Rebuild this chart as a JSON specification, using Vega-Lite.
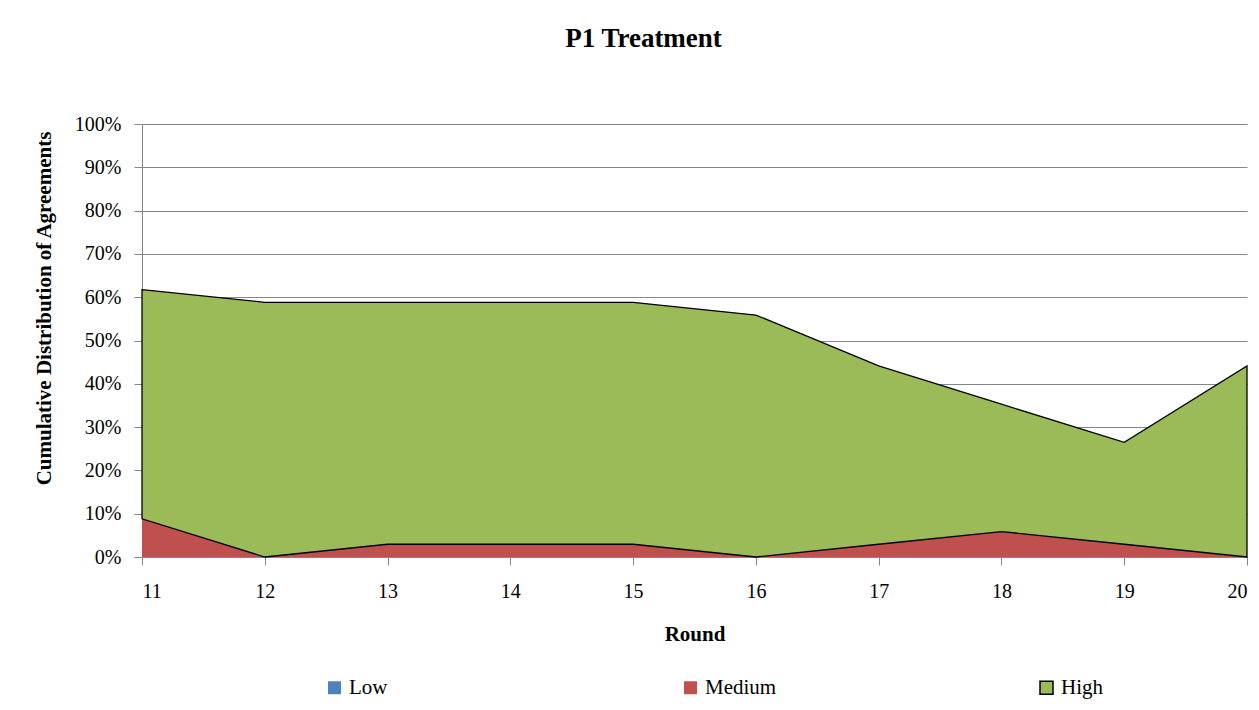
{
  "$schema": "https://vega.github.io/schema/vega-lite/v6.json",
  "autosize": {"type": "none"},
  "padding": {"left": 142, "top": 124, "right": 12, "bottom": 153},
  "width": 1105,
  "height": 433,
  "background": "white",
  "title": {
    "text": "P1 Treatment",
    "font": "Liberation Serif",
    "fontSize": 27,
    "fontWeight": "bold",
    "color": "black",
    "anchor": "middle",
    "frame": "group",
    "baseline": "alphabetic",
    "offset": 40,
    "dx": -51
  },
  "data": {
    "values": [
      {"round": 11, "level": "Low", "share": 0},
      {"round": 12, "level": "Low", "share": 0},
      {"round": 13, "level": "Low", "share": 0},
      {"round": 14, "level": "Low", "share": 0},
      {"round": 15, "level": "Low", "share": 0},
      {"round": 16, "level": "Low", "share": 0},
      {"round": 17, "level": "Low", "share": 0},
      {"round": 18, "level": "Low", "share": 0},
      {"round": 19, "level": "Low", "share": 0},
      {"round": 20, "level": "Low", "share": 0},
      {"round": 11, "level": "Medium", "share": 0.0882},
      {"round": 12, "level": "Medium", "share": 0},
      {"round": 13, "level": "Medium", "share": 0.0294},
      {"round": 14, "level": "Medium", "share": 0.0294},
      {"round": 15, "level": "Medium", "share": 0.0294},
      {"round": 16, "level": "Medium", "share": 0},
      {"round": 17, "level": "Medium", "share": 0.0294},
      {"round": 18, "level": "Medium", "share": 0.0588},
      {"round": 19, "level": "Medium", "share": 0.0294},
      {"round": 20, "level": "Medium", "share": 0},
      {"round": 11, "level": "High", "share": 0.5294},
      {"round": 12, "level": "High", "share": 0.5882},
      {"round": 13, "level": "High", "share": 0.5588},
      {"round": 14, "level": "High", "share": 0.5588},
      {"round": 15, "level": "High", "share": 0.5588},
      {"round": 16, "level": "High", "share": 0.5588},
      {"round": 17, "level": "High", "share": 0.4118},
      {"round": 18, "level": "High", "share": 0.2941},
      {"round": 19, "level": "High", "share": 0.2353},
      {"round": 20, "level": "High", "share": 0.4412}
    ]
  },
  "mark": {"type": "area", "interpolate": "linear", "strokeWidth": 1.3, "opacity": 1},
  "encoding": {
    "x": {
      "field": "round",
      "type": "quantitative",
      "scale": {"domain": [11, 20], "nice": false, "zero": false},
      "axis": {
        "title": "Round",
        "values": [11, 12, 13, 14, 15, 16, 17, 18, 19, 20],
        "format": "d",
        "grid": false,
        "labelPadding": 16,
        "titlePadding": 22
      }
    },
    "y": {
      "field": "share",
      "type": "quantitative",
      "stack": "zero",
      "scale": {"domain": [0, 1], "nice": false},
      "axis": {
        "title": "Cumulative Distribution of Agreements",
        "values": [0, 0.1, 0.2, 0.3, 0.4, 0.5, 0.6, 0.7, 0.8, 0.9, 1],
        "format": ".0%",
        "grid": true,
        "labelPadding": 13,
        "titleX": -98,
        "titleY": 184,
        "titleAlign": "center",
        "titleBaseline": "middle",
        "titleAngle": 270
      }
    },
    "color": {
      "field": "level",
      "type": "nominal",
      "sort": ["Low", "Medium", "High"],
      "scale": {"domain": ["Low", "Medium", "High"], "range": ["#4F81BD", "#C0504D", "#9BBB59"]},
      "legend": {
        "title": null,
        "orient": "none",
        "direction": "horizontal",
        "columns": 3,
        "legendX": 182,
        "legendY": 553,
        "padding": 0,
        "gridAlign": "all",
        "columnPadding": 259,
        "symbolType": "square",
        "symbolSize": 169,
        "symbolOpacity": 1,
        "symbolStrokeWidth": 1.5,
        "labelOffset": 4,
        "labelFont": "Liberation Serif",
        "labelFontSize": 21,
        "labelColor": "black",
        "labelLimit": 200
      }
    },
    "stroke": {
      "field": "level",
      "type": "nominal",
      "sort": ["Low", "Medium", "High"],
      "scale": {"domain": ["Low", "Medium", "High"], "range": ["transparent", "transparent", "#000000"]},
      "legend": {
        "title": null,
        "orient": "none",
        "direction": "horizontal",
        "columns": 3,
        "legendX": 182,
        "legendY": 553,
        "padding": 0,
        "gridAlign": "all",
        "columnPadding": 259,
        "symbolType": "square",
        "symbolSize": 169,
        "symbolOpacity": 1,
        "symbolStrokeWidth": 1.5,
        "labelOffset": 4,
        "labelFont": "Liberation Serif",
        "labelFontSize": 21,
        "labelColor": "black",
        "labelLimit": 200
      }
    }
  },
  "config": {
    "view": {"stroke": null},
    "font": "Liberation Serif",
    "legend": {
      "labelFont": "Liberation Serif",
      "labelFontSize": 21,
      "labelColor": "black"
    },
    "axis": {
      "labelFont": "Liberation Serif",
      "labelFontSize": 20,
      "labelColor": "black",
      "titleFont": "Liberation Serif",
      "titleFontSize": 21,
      "titleFontWeight": "bold",
      "titleColor": "black",
      "domainColor": "#868686",
      "domainWidth": 1,
      "tickColor": "#868686",
      "tickSize": 8,
      "tickWidth": 1,
      "gridColor": "#868686",
      "gridWidth": 1,
      "gridOpacity": 1,
      "labelOverlap": false,
      "labelBound": false
    }
  }
}
